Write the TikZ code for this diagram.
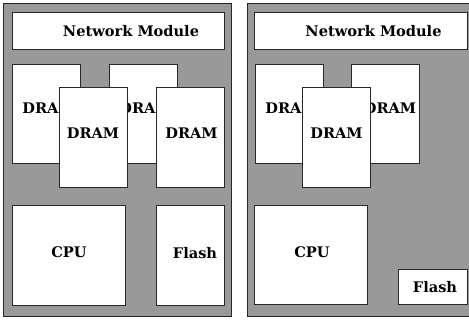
\documentclass[tikz,border=0pt]{standalone}
\usepackage{fontspec}
\setmainfont{DejaVu Serif}
\definecolor{boardgray}{RGB}{153,153,153}
\definecolor{edge}{RGB}{40,40,40}
\tikzset{
  board/.style={draw=edge, fill=boardgray, line width=1.2pt},
  blk/.style={draw=edge, fill=white, line width=0.9pt, inner sep=0pt, anchor=north west},
  lbl/.style={inner sep=0pt, font=\fontsize{14.6}{17}\selectfont\bfseries},
}
% block: name, x1, y1, x2, y2, label x, label y, text
\newcommand\blk[8]{%
  \node[blk, minimum width=#4-#2, minimum height=#5-#3] (#1) at (#2,#3) {};
  \node[lbl] (#1-t) at (#6,#7) {#8};
}
\begin{document}
\begin{tikzpicture}[x=1pt,y=-1pt]
\useasboundingbox (0,0) rectangle (469,322);

% left board
\node[board, minimum width=228, minimum height=313, anchor=north west, inner sep=0pt] (boardL) at (3,3) {};
\blk{nmL}{12}{12}{224}{49}{131}{31.5}{Network Module}
\blk{dL1}{12}{64}{80}{163}{48.5}{108}{DRAM}
\blk{dL2}{109}{64}{177}{163}{145.5}{108}{DRAM}
\blk{dL3}{59}{87}{127}{187}{93}{133}{DRAM}
\blk{dL4}{156}{87}{224}{187}{191.5}{133}{DRAM}
\blk{cpuL}{12}{205}{125}{305}{69}{252}{CPU}
\blk{flL}{156}{205}{224}{305}{195}{253}{Flash}

% right board
\node[board, minimum width=226, minimum height=313, anchor=north west, inner sep=0pt] (boardR) at (247,3) {};
\blk{nmR}{254}{12}{467}{49}{373.5}{31.5}{Network Module}
\blk{dR1}{255}{64}{323}{163}{291.5}{108}{DRAM}
\blk{dR2}{351}{64}{419}{163}{390}{108}{DRAM}
\blk{dR3}{302}{87}{370}{187}{336.5}{133}{DRAM}
\blk{cpuR}{254}{205}{367}{304}{312}{252}{CPU}
\blk{flR}{398}{269}{467}{304}{435}{287}{Flash}
\end{tikzpicture}
\end{document}
